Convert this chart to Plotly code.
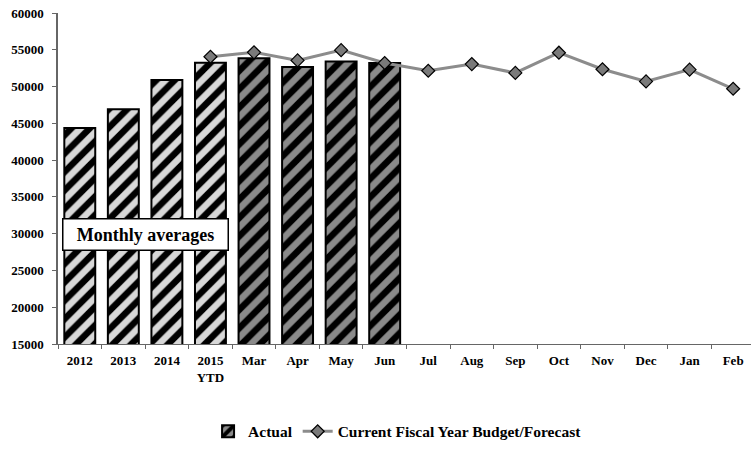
import plotly.graph_objects as go

# Categories: yearly monthly averages followed by fiscal-year months
categories = ["2012", "2013", "2014", "2015<br>YTD", "Mar", "Apr", "May", "Jun",
              "Jul", "Aug", "Sep", "Oct", "Nov", "Dec", "Jan", "Feb"]

# Actual values: yearly monthly averages, then months to date
actual_yearly = [44350, 46900, 50900, 53250, None, None, None, None,
                 None, None, None, None, None, None, None, None]
actual_monthly = [None, None, None, None, 53850, 52650, 53400, 53200,
                  None, None, None, None, None, None, None, None]

# Current fiscal year budget / forecast (starts at 2015 YTD)
budget = [None, None, None, 54050, 54650, 53550, 54950, 53200,
          52150, 53050, 51850, 54600, 52350, 50700, 52300, 49700]

y_ticks = [15000, 20000, 25000, 30000, 35000, 40000, 45000, 50000, 55000, 60000]

SERIF = "Liberation Serif"


def hatched(bg):
    return dict(
        color=bg,
        line=dict(color="black", width=2),
        pattern=dict(shape="/", fgcolor="black", bgcolor=bg, fgopacity=1,
                     size=13, solidity=0.5, fillmode="replace"),
    )


fig = go.Figure()

fig.add_trace(go.Bar(
    x=categories, y=actual_yearly, name="Actual",
    marker=hatched("#d8d8d8"), showlegend=False, legendgroup="actual",
))

fig.add_trace(go.Bar(
    x=categories, y=actual_monthly, name="Actual",
    marker=hatched("#8a8a8a"), legendgroup="actual",
))

fig.add_trace(go.Scatter(
    x=categories,
    y=budget,
    name="Current Fiscal Year Budget/Forecast",
    mode="lines+markers",
    line=dict(color="#8c8c8c", width=3),
    marker=dict(symbol="diamond", size=10, color="#7a7a7a",
                line=dict(color="black", width=1.2)),
))

fig.add_annotation(
    x=1.52, y=29900, xref="x", yref="y",
    text="Monthly averages", showarrow=False,
    font=dict(family=SERIF, size=18, color="black", weight="bold"),
    width=160, height=26, borderpad=2,
    bgcolor="white", bordercolor="black", borderwidth=1.5,
)

fig.update_layout(
    width=751, height=449,
    margin=dict(l=58, r=0, t=13, b=102),
    paper_bgcolor="white", plot_bgcolor="white",
    barmode="overlay",
    bargap=0.29,
    font=dict(family=SERIF, color="black"),
    showlegend=True,
    legend=dict(
        orientation="h", x=0.49, xanchor="center", y=-0.265, yanchor="middle",
        font=dict(family=SERIF, size=15.5, color="black", weight="bold"),
        itemwidth=30, tracegroupgap=0,
    ),
)

fig.update_xaxes(
    type="category",
    range=[-0.5, 15.41],
    showline=True, linecolor="#666", linewidth=1,
    ticks="outside", tickson="boundaries", ticklen=4, tickcolor="#666",
    ticklabelstandoff=4,
    tickfont=dict(family=SERIF, size=13, color="black", weight="bold"),
    showgrid=False, zeroline=False,
)

fig.update_yaxes(
    range=[15000, 60000],
    tickvals=y_ticks,
    ticktext=[str(v) for v in y_ticks],
    showline=True, linecolor="#666", linewidth=1.5,
    ticks="outside", ticklen=4, tickcolor="#666",
    ticklabelstandoff=6,
    tickfont=dict(family=SERIF, size=13, color="black", weight="bold"),
    showgrid=False, zeroline=False,
)

fig.write_html("out.html")
